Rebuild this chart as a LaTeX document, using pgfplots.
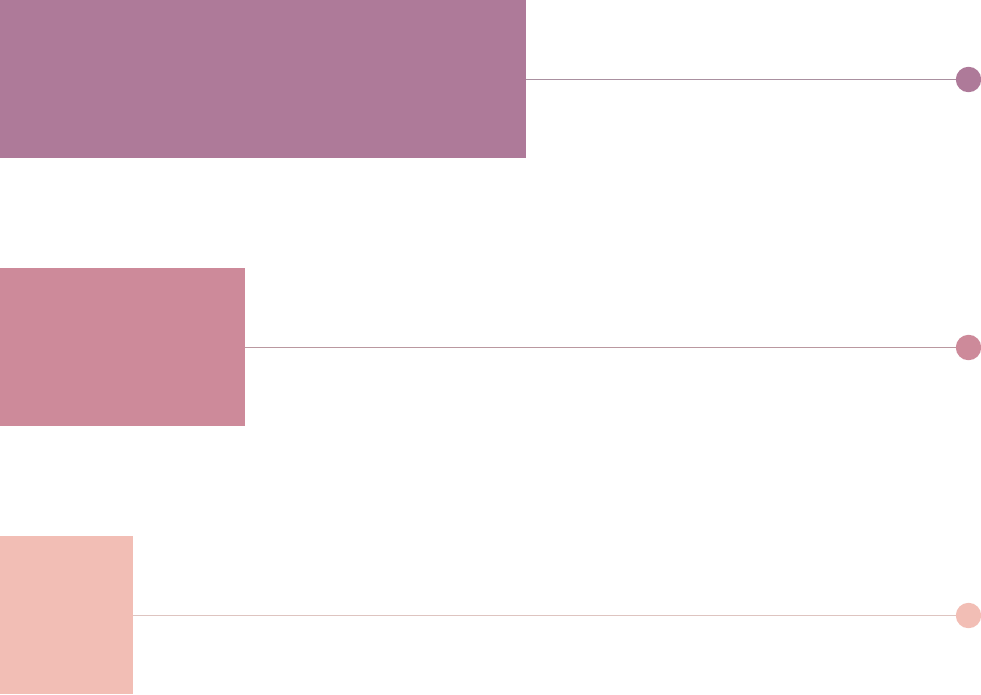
\documentclass[border=0pt]{standalone}
\usepackage{pgfplots}
\pgfplotsset{compat=1.18}
\definecolor{barA}{HTML}{AE7A99}
\definecolor{barB}{HTML}{CD8A9A}
\definecolor{barC}{HTML}{F2BEB5}
\begin{document}
\begin{tikzpicture}
\begin{axis}[
  scale only axis,
  width=9.81cm, height=6.94cm,
  xmin=0, xmax=981, ymin=0, ymax=694,
  hide axis,
  clip=false,
]
% bars
\addplot[xbar, bar width=158, bar shift=0pt, draw=none, fill=barA] coordinates {(526,615)};
\addplot[xbar, bar width=158, bar shift=0pt, draw=none, fill=barB] coordinates {(245,347)};
\addplot[xbar, bar width=158, bar shift=0pt, draw=none, fill=barC] coordinates {(133,79)};
% leader lines from each bar end to its dot
\addplot[no marks, color=barA!60!gray!85!white, line width=0.3pt] coordinates {(526,614.5) (968,614.5)};
\addplot[no marks, color=barB!60!gray!85!white, line width=0.3pt] coordinates {(245,346.5) (968,346.5)};
\addplot[no marks, color=barC!70!gray!70!white, line width=0.3pt] coordinates {(133,78.5) (968,78.5)};
% end dots
\addplot[only marks, color=barA, mark=*, mark size=1.2mm] coordinates {(968.5,614.5)};
\addplot[only marks, color=barB, mark=*, mark size=1.2mm] coordinates {(968.5,346.5)};
\addplot[only marks, color=barC, mark=*, mark size=1.2mm] coordinates {(968.5,78.5)};
\end{axis}
\pgfresetboundingbox
\path (current axis.south west) rectangle (current axis.north east);
\end{tikzpicture}
\end{document}
